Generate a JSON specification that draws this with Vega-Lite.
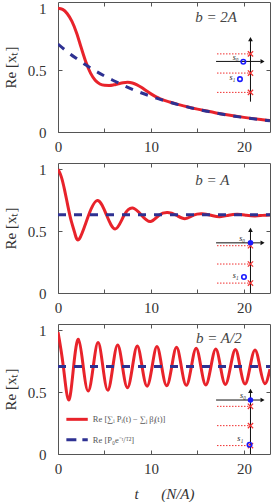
{
"$schema": "https://vega.github.io/schema/vega-lite/v6.json",
"autosize": {"type": "pad"},
"padding": {"left": 2, "top": 0, "right": 0, "bottom": 0},
"spacing": 31,
"bounds": "flush",
"config": {
  "font": "Liberation Serif",
  "view": {"stroke": "#555", "strokeWidth": 1},
  "axis": {"grid": false, "domain": false, "tickSize": -4, "tickColor": "#555", "tickWidth": 1, "labelFlush": false, "labelOverlap": false,
           "labelFont": "Liberation Serif", "labelFontSize": 15, "labelColor": "#333", "titleFont": "Liberation Serif", "titleFontSize": 15, "titleColor": "#333", "titleFontWeight": "normal"}
},
"datasets": {
  "curves": [
    {"p":1,"s":"r","t":0,"v":1.0},{"p":1,"s":"r","t":0.5,"v":0.99},{"p":1,"s":"r","t":1,"v":0.955},{"p":1,"s":"r","t":1.5,"v":0.893},{"p":1,"s":"r","t":2,"v":0.8},{"p":1,"s":"r","t":2.5,"v":0.68},{"p":1,"s":"r","t":3,"v":0.565},{"p":1,"s":"r","t":3.5,"v":0.475},{"p":1,"s":"r","t":4,"v":0.418},{"p":1,"s":"r","t":4.5,"v":0.388},{"p":1,"s":"r","t":5,"v":0.377},{"p":1,"s":"r","t":5.5,"v":0.376},{"p":1,"s":"r","t":6,"v":0.381},{"p":1,"s":"r","t":6.5,"v":0.39},{"p":1,"s":"r","t":7,"v":0.398},{"p":1,"s":"r","t":7.5,"v":0.401},{"p":1,"s":"r","t":8,"v":0.396},{"p":1,"s":"r","t":8.5,"v":0.381},{"p":1,"s":"r","t":9,"v":0.359},{"p":1,"s":"r","t":9.5,"v":0.333},{"p":1,"s":"r","t":10,"v":0.308},{"p":1,"s":"r","t":10.5,"v":0.286},{"p":1,"s":"r","t":11,"v":0.268},{"p":1,"s":"r","t":12,"v":0.242},{"p":1,"s":"r","t":13,"v":0.221},{"p":1,"s":"r","t":14,"v":0.202},{"p":1,"s":"r","t":15,"v":0.185},{"p":1,"s":"r","t":16,"v":0.169},{"p":1,"s":"r","t":17,"v":0.154},{"p":1,"s":"r","t":18,"v":0.141},{"p":1,"s":"r","t":19,"v":0.129},{"p":1,"s":"r","t":20,"v":0.118},{"p":1,"s":"r","t":21,"v":0.108},{"p":1,"s":"r","t":22,"v":0.099},{"p":1,"s":"r","t":22.8,"v":0.092},
    {"p":1,"s":"b","t":0,"v":0.71},{"p":1,"s":"b","t":1,"v":0.648},{"p":1,"s":"b","t":2,"v":0.593},{"p":1,"s":"b","t":3,"v":0.541},{"p":1,"s":"b","t":4,"v":0.495},{"p":1,"s":"b","t":5,"v":0.452},{"p":1,"s":"b","t":6,"v":0.414},{"p":1,"s":"b","t":7,"v":0.378},{"p":1,"s":"b","t":8,"v":0.345},{"p":1,"s":"b","t":9,"v":0.315},{"p":1,"s":"b","t":10,"v":0.288},{"p":1,"s":"b","t":11,"v":0.263},{"p":1,"s":"b","t":12,"v":0.241},{"p":1,"s":"b","t":13,"v":0.22},{"p":1,"s":"b","t":14,"v":0.201},{"p":1,"s":"b","t":15,"v":0.184},{"p":1,"s":"b","t":16,"v":0.168},{"p":1,"s":"b","t":17,"v":0.153},{"p":1,"s":"b","t":18,"v":0.14},{"p":1,"s":"b","t":19,"v":0.128},{"p":1,"s":"b","t":20,"v":0.117},{"p":1,"s":"b","t":21,"v":0.107},{"p":1,"s":"b","t":22,"v":0.098},{"p":1,"s":"b","t":22.8,"v":0.091},
    {"p":2,"s":"r","t":0,"v":1.0},{"p":2,"s":"r","t":0.35,"v":0.94},{"p":2,"s":"r","t":0.7,"v":0.835},{"p":2,"s":"r","t":1.07,"v":0.7},{"p":2,"s":"r","t":1.43,"v":0.58},{"p":2,"s":"r","t":1.8,"v":0.485},{"p":2,"s":"r","t":2.3,"v":0.437},{"p":2,"s":"r","t":3.29,"v":0.628},{"p":2,"s":"r","t":4.28,"v":0.747},{"p":2,"s":"r","t":5.23,"v":0.628},{"p":2,"s":"r","t":6.18,"v":0.518},{"p":2,"s":"r","t":7.11,"v":0.628},{"p":2,"s":"r","t":8.04,"v":0.686},{"p":2,"s":"r","t":8.985,"v":0.628},{"p":2,"s":"r","t":9.93,"v":0.577},{"p":2,"s":"r","t":10.865,"v":0.628},{"p":2,"s":"r","t":11.8,"v":0.65},{"p":2,"s":"r","t":12.725,"v":0.628},{"p":2,"s":"r","t":13.65,"v":0.6},{"p":2,"s":"r","t":14.575,"v":0.628},{"p":2,"s":"r","t":15.5,"v":0.64},{"p":2,"s":"r","t":16.45,"v":0.628},{"p":2,"s":"r","t":17.4,"v":0.616},{"p":2,"s":"r","t":18.35,"v":0.628},{"p":2,"s":"r","t":19.3,"v":0.636},{"p":2,"s":"r","t":20.25,"v":0.628},{"p":2,"s":"r","t":21.2,"v":0.622},{"p":2,"s":"r","t":22.0,"v":0.627},{"p":2,"s":"r","t":22.8,"v":0.63},
    {"p":2,"s":"b","t":0,"v":0.632},{"p":2,"s":"b","t":22.8,"v":0.632},
    {"p":3,"s":"r","t":0,"v":0.985},{"p":3,"s":"r","t":0.57,"v":0.71},{"p":3,"s":"r","t":1.14,"v":0.437},{"p":3,"s":"r","t":1.67,"v":0.7},{"p":3,"s":"r","t":2.2,"v":0.926},{"p":3,"s":"r","t":2.725,"v":0.7},{"p":3,"s":"r","t":3.25,"v":0.509},{"p":3,"s":"r","t":3.78,"v":0.7},{"p":3,"s":"r","t":4.31,"v":0.9},{"p":3,"s":"r","t":4.835,"v":0.7},{"p":3,"s":"r","t":5.36,"v":0.515},{"p":3,"s":"r","t":5.89,"v":0.7},{"p":3,"s":"r","t":6.42,"v":0.88},{"p":3,"s":"r","t":6.945,"v":0.7},{"p":3,"s":"r","t":7.47,"v":0.535},{"p":3,"s":"r","t":8.0,"v":0.7},{"p":3,"s":"r","t":8.53,"v":0.873},{"p":3,"s":"r","t":9.055,"v":0.7},{"p":3,"s":"r","t":9.58,"v":0.548},{"p":3,"s":"r","t":10.11,"v":0.7},{"p":3,"s":"r","t":10.64,"v":0.868},{"p":3,"s":"r","t":11.165,"v":0.7},{"p":3,"s":"r","t":11.69,"v":0.552},{"p":3,"s":"r","t":12.22,"v":0.7},{"p":3,"s":"r","t":12.75,"v":0.862},{"p":3,"s":"r","t":13.275,"v":0.7},{"p":3,"s":"r","t":13.8,"v":0.555},{"p":3,"s":"r","t":14.33,"v":0.7},{"p":3,"s":"r","t":14.86,"v":0.855},{"p":3,"s":"r","t":15.38,"v":0.7},{"p":3,"s":"r","t":15.9,"v":0.558},{"p":3,"s":"r","t":16.435,"v":0.7},{"p":3,"s":"r","t":16.97,"v":0.848},{"p":3,"s":"r","t":17.485,"v":0.7},{"p":3,"s":"r","t":18.0,"v":0.562},{"p":3,"s":"r","t":18.54,"v":0.7},{"p":3,"s":"r","t":19.08,"v":0.845},{"p":3,"s":"r","t":19.59,"v":0.7},{"p":3,"s":"r","t":20.12,"v":0.565},{"p":3,"s":"r","t":20.645,"v":0.7},{"p":3,"s":"r","t":21.19,"v":0.84},{"p":3,"s":"r","t":21.72,"v":0.7},{"p":3,"s":"r","t":22.25,"v":0.568},{"p":3,"s":"r","t":22.8,"v":0.685},
    {"p":3,"s":"b","t":0,"v":0.706},{"p":3,"s":"b","t":22.8,"v":0.706}
  ],
  "axes": [
    {"p":1,"x":20.7,"x2":20.7,"y":0.245,"y2":0.74},{"p":1,"x":17.0,"x2":21.8,"y":0.57,"y2":0.57},
    {"p":2,"x":20.7,"x2":20.7,"y":0,"y2":0.5},{"p":2,"x":17.0,"x2":21.8,"y":0.405,"y2":0.405},
    {"p":3,"x":20.7,"x2":20.7,"y":0,"y2":0.5},{"p":3,"x":17.0,"x2":21.8,"y":0.436,"y2":0.436}
  ],
  "heads": [
    {"p":1,"x":20.7,"y":0.75,"d":"up"},{"p":1,"x":22.0,"y":0.57,"d":"right"},
    {"p":2,"x":20.7,"y":0.51,"d":"up"},{"p":2,"x":22.0,"y":0.405,"d":"right"},
    {"p":3,"x":20.7,"y":0.51,"d":"up"},{"p":3,"x":22.0,"y":0.436,"d":"right"}
  ],
  "poles": [
    {"p":1,"x":17.1,"x2":20.7,"y":0.631},{"p":1,"x":17.1,"x2":20.7,"y":0.476},{"p":1,"x":17.1,"x2":20.7,"y":0.32},
    {"p":2,"x":17.1,"x2":20.7,"y":0.382},{"p":2,"x":17.1,"x2":20.7,"y":0.234},{"p":2,"x":17.1,"x2":20.7,"y":0.08},
    {"p":3,"x":17.1,"x2":20.7,"y":0.385},{"p":3,"x":17.1,"x2":20.7,"y":0.229},{"p":3,"x":17.1,"x2":20.7,"y":0.068}
  ],
  "zeros": [
    {"p":1,"x":19.93,"y":0.567,"k":"open"},{"p":1,"x":19.57,"y":0.427,"k":"open"},
    {"p":2,"x":20.7,"y":0.405,"k":"full"},{"p":2,"x":20.0,"y":0.129,"k":"open"},
    {"p":3,"x":20.7,"y":0.436,"k":"full"},{"p":3,"x":20.6,"y":0.075,"k":"open"}
  ],
  "zlabels": [
    {"p":1,"x":19.1,"y":0.595,"txt":"s₀"},{"p":1,"x":18.75,"y":0.433,"txt":"s₁"},
    {"p":2,"x":19.8,"y":0.44,"txt":"s₀"},{"p":2,"x":19.1,"y":0.134,"txt":"s₁"},
    {"p":3,"x":19.9,"y":0.47,"txt":"s₀"},{"p":3,"x":19.6,"y":0.12,"txt":"s₁"}
  ],
  "heads2": [
    {"p":1,"x":17.0,"y":0.93,"txt":"b = 2A"},{"p":2,"x":16.6,"y":0.916,"txt":"b = A"},{"p":3,"x":17.3,"y":0.94,"txt":"b = A/2"}
  ],
  "legend": [
    {"s":"r","x":0.9,"x2":3.2,"y":0.28,"tx":3.75,"txt":"Re [∑ᵢ Pᵢ(t) − ∑ⱼ βⱼ(t)]"},
    {"s":"b","x":0.9,"x2":3.2,"y":0.116,"tx":3.75,"txt":"Re [P₀e⁻ᵗ/ᵀ²]"}
  ]
},
"vconcat": [
  {
    "width": 212, "height": 130,
    "layer": [
      {"layer": [
        {"data": {"name": "curves"}, "transform": [{"filter": "datum.p==1 && datum.s=='r'"}],
         "mark": {"type": "line", "color": "#e8232b", "strokeWidth": 3, "interpolate": "monotone", "clip": true},
         "encoding": {
           "x": {"field": "t", "type": "quantitative", "scale": {"domain": [0, 22.8], "nice": false, "zero": false},
                 "axis": {"values": [0,5,10,15,20], "labelExpr": "datum.value % 10 === 0 ? datum.label : ''", "title": null, "labelPadding": 11}},
           "y": {"field": "v", "type": "quantitative", "scale": {"domain": [0, 1.05], "nice": false},
                 "axis": {"values": [0,0.5,1], "format": "~g", "title": "Re [xₜ]", "labelPadding": 16, "titlePadding": 9}}}},
        {"data": {"name": "curves"}, "transform": [{"filter": "datum.p==1 && datum.s=='b'"}],
         "mark": {"type": "line", "color": "#2e3192", "strokeWidth": 3, "strokeDash": [8, 8], "interpolate": "monotone", "clip": true},
         "encoding": {"x": {"field": "t", "type": "quantitative"}, "y": {"field": "v", "type": "quantitative"}}},
        {"data": {"name": "axes"}, "transform": [{"filter": "datum.p==1"}],
         "mark": {"type": "rule", "color": "#111", "strokeWidth": 1},
         "encoding": {"x": {"field": "x", "type": "quantitative"}, "x2": {"field": "x2"}, "y": {"field": "y", "type": "quantitative"}, "y2": {"field": "y2"}}},
        {"data": {"name": "poles"}, "transform": [{"filter": "datum.p==1"}],
         "mark": {"type": "rule", "color": "#f03030", "strokeWidth": 1, "strokeDash": [1.5, 1.5]},
         "encoding": {"x": {"field": "x", "type": "quantitative"}, "x2": {"field": "x2"}, "y": {"field": "y", "type": "quantitative"}}},
        {"data": {"name": "poles"}, "transform": [{"filter": "datum.p==1"}],
         "mark": {"type": "point", "shape": "M-1,-1L1,1M-1,1L1,-1", "filled": false, "color": "#f03030", "strokeWidth": 1.2, "size": 28, "opacity": 1},
         "encoding": {"x": {"field": "x2", "type": "quantitative"}, "y": {"field": "y", "type": "quantitative"}}},
        {"data": {"name": "heads"}, "transform": [{"filter": "datum.p==1"}],
         "mark": {"type": "point", "filled": true, "color": "#111", "size": 22, "opacity": 1},
         "encoding": {"x": {"field": "x", "type": "quantitative"}, "y": {"field": "y", "type": "quantitative"},
                      "shape": {"field": "d", "type": "nominal", "scale": {"domain": ["up", "right"], "range": ["triangle-up", "triangle-right"]}, "legend": null}}},
        {"data": {"name": "zeros"}, "transform": [{"filter": "datum.p==1 && datum.k=='open'"}],
         "mark": {"type": "point", "filled": false, "color": "#1a1aff", "strokeWidth": 1.6, "size": 20, "opacity": 1},
         "encoding": {"x": {"field": "x", "type": "quantitative"}, "y": {"field": "y", "type": "quantitative"}}},
        {"data": {"name": "zlabels"}, "transform": [{"filter": "datum.p==1"}],
         "mark": {"type": "text", "fontSize": 8, "fontStyle": "italic", "color": "#222"},
         "encoding": {"x": {"field": "x", "type": "quantitative"}, "y": {"field": "y", "type": "quantitative"}, "text": {"field": "txt"}}},
        {"data": {"name": "heads2"}, "transform": [{"filter": "datum.p==1"}],
         "mark": {"type": "text", "fontSize": 15, "fontStyle": "italic", "color": "#444"},
         "encoding": {"x": {"field": "x", "type": "quantitative"}, "y": {"field": "y", "type": "quantitative"}, "text": {"field": "txt"}}}
      ]},
      {"data": {"values": [{"t": 0, "v": 0}]}, "mark": {"type": "point", "opacity": 0},
       "encoding": {"x": {"field": "t", "type": "quantitative", "axis": {"orient": "top", "values": [5,10,15,20], "labels": false, "title": null}},
                    "y": {"field": "v", "type": "quantitative", "axis": {"orient": "right", "values": [0.5], "labels": false, "title": null}}}}
    ],
    "resolve": {"axis": {"x": "independent", "y": "independent"}}
  },
  {
    "width": 212, "height": 130,
    "layer": [
      {"layer": [
        {"data": {"name": "curves"}, "transform": [{"filter": "datum.p==2 && datum.s=='r'"}],
         "mark": {"type": "line", "color": "#e8232b", "strokeWidth": 3, "interpolate": "natural", "clip": true},
         "encoding": {
           "x": {"field": "t", "type": "quantitative", "scale": {"domain": [0, 22.8], "nice": false, "zero": false},
                 "axis": {"values": [0,5,10,15,20], "labelExpr": "datum.value % 10 === 0 ? datum.label : ''", "title": null, "labelPadding": 11}},
           "y": {"field": "v", "type": "quantitative", "scale": {"domain": [0, 1.05], "nice": false},
                 "axis": {"values": [0,0.5,1], "format": "~g", "title": "Re [xₜ]", "labelPadding": 16, "titlePadding": 9}}}},
        {"data": {"name": "curves"}, "transform": [{"filter": "datum.p==2 && datum.s=='b'"}],
         "mark": {"type": "line", "color": "#2e3192", "strokeWidth": 3, "strokeDash": [8, 8], "clip": true},
         "encoding": {"x": {"field": "t", "type": "quantitative"}, "y": {"field": "v", "type": "quantitative"}}},
        {"data": {"name": "axes"}, "transform": [{"filter": "datum.p==2"}],
         "mark": {"type": "rule", "color": "#111", "strokeWidth": 1},
         "encoding": {"x": {"field": "x", "type": "quantitative"}, "x2": {"field": "x2"}, "y": {"field": "y", "type": "quantitative"}, "y2": {"field": "y2"}}},
        {"data": {"name": "poles"}, "transform": [{"filter": "datum.p==2"}],
         "mark": {"type": "rule", "color": "#f03030", "strokeWidth": 1, "strokeDash": [1.5, 1.5]},
         "encoding": {"x": {"field": "x", "type": "quantitative"}, "x2": {"field": "x2"}, "y": {"field": "y", "type": "quantitative"}}},
        {"data": {"name": "poles"}, "transform": [{"filter": "datum.p==2"}],
         "mark": {"type": "point", "shape": "M-1,-1L1,1M-1,1L1,-1", "filled": false, "color": "#f03030", "strokeWidth": 1.2, "size": 28, "opacity": 1},
         "encoding": {"x": {"field": "x2", "type": "quantitative"}, "y": {"field": "y", "type": "quantitative"}}},
        {"data": {"name": "heads"}, "transform": [{"filter": "datum.p==2"}],
         "mark": {"type": "point", "filled": true, "color": "#111", "size": 22, "opacity": 1},
         "encoding": {"x": {"field": "x", "type": "quantitative"}, "y": {"field": "y", "type": "quantitative"},
                      "shape": {"field": "d", "type": "nominal", "scale": {"domain": ["up", "right"], "range": ["triangle-up", "triangle-right"]}, "legend": null}}},
        {"data": {"name": "zeros"}, "transform": [{"filter": "datum.p==2 && datum.k=='open'"}],
         "mark": {"type": "point", "filled": false, "color": "#1a1aff", "strokeWidth": 1.6, "size": 20, "opacity": 1},
         "encoding": {"x": {"field": "x", "type": "quantitative"}, "y": {"field": "y", "type": "quantitative"}}},
        {"data": {"name": "zeros"}, "transform": [{"filter": "datum.p==2 && datum.k=='full'"}],
         "mark": {"type": "point", "filled": true, "color": "#1a1aff", "size": 30, "opacity": 1},
         "encoding": {"x": {"field": "x", "type": "quantitative"}, "y": {"field": "y", "type": "quantitative"}}},
        {"data": {"name": "zlabels"}, "transform": [{"filter": "datum.p==2"}],
         "mark": {"type": "text", "fontSize": 8, "fontStyle": "italic", "color": "#222"},
         "encoding": {"x": {"field": "x", "type": "quantitative"}, "y": {"field": "y", "type": "quantitative"}, "text": {"field": "txt"}}},
        {"data": {"name": "heads2"}, "transform": [{"filter": "datum.p==2"}],
         "mark": {"type": "text", "fontSize": 15, "fontStyle": "italic", "color": "#444"},
         "encoding": {"x": {"field": "x", "type": "quantitative"}, "y": {"field": "y", "type": "quantitative"}, "text": {"field": "txt"}}}
      ]},
      {"data": {"values": [{"t": 0, "v": 0}]}, "mark": {"type": "point", "opacity": 0},
       "encoding": {"x": {"field": "t", "type": "quantitative", "axis": {"orient": "top", "values": [5,10,15,20], "labels": false, "title": null}},
                    "y": {"field": "v", "type": "quantitative", "axis": {"orient": "right", "values": [0.5], "labels": false, "title": null}}}}
    ],
    "resolve": {"axis": {"x": "independent", "y": "independent"}}
  },
  {
    "width": 212, "height": 130,
    "layer": [
      {"layer": [
        {"data": {"name": "curves"}, "transform": [{"filter": "datum.p==3 && datum.s=='r'"}],
         "mark": {"type": "line", "color": "#e8232b", "strokeWidth": 3, "interpolate": "natural", "clip": true},
         "encoding": {
           "x": {"field": "t", "type": "quantitative", "scale": {"domain": [0, 22.8], "nice": false, "zero": false},
                 "axis": {"values": [0,5,10,15,20], "labelExpr": "datum.value % 10 === 0 ? datum.label : ''", "title": "t\u00a0\u00a0\u00a0\u00a0\u00a0\u00a0(N/A)", "titleFontStyle": "italic", "labelPadding": 11, "titlePadding": 10}},
           "y": {"field": "v", "type": "quantitative", "scale": {"domain": [0, 1.05], "nice": false},
                 "axis": {"values": [0,0.5,1], "format": "~g", "title": "Re [xₜ]", "labelPadding": 16, "titlePadding": 9}}}},
        {"data": {"name": "curves"}, "transform": [{"filter": "datum.p==3 && datum.s=='b'"}],
         "mark": {"type": "line", "color": "#2e3192", "strokeWidth": 3, "strokeDash": [8, 8], "clip": true},
         "encoding": {"x": {"field": "t", "type": "quantitative"}, "y": {"field": "v", "type": "quantitative"}}},
        {"data": {"name": "axes"}, "transform": [{"filter": "datum.p==3"}],
         "mark": {"type": "rule", "color": "#111", "strokeWidth": 1},
         "encoding": {"x": {"field": "x", "type": "quantitative"}, "x2": {"field": "x2"}, "y": {"field": "y", "type": "quantitative"}, "y2": {"field": "y2"}}},
        {"data": {"name": "poles"}, "transform": [{"filter": "datum.p==3"}],
         "mark": {"type": "rule", "color": "#f03030", "strokeWidth": 1, "strokeDash": [1.5, 1.5]},
         "encoding": {"x": {"field": "x", "type": "quantitative"}, "x2": {"field": "x2"}, "y": {"field": "y", "type": "quantitative"}}},
        {"data": {"name": "poles"}, "transform": [{"filter": "datum.p==3"}],
         "mark": {"type": "point", "shape": "M-1,-1L1,1M-1,1L1,-1", "filled": false, "color": "#f03030", "strokeWidth": 1.2, "size": 28, "opacity": 1},
         "encoding": {"x": {"field": "x2", "type": "quantitative"}, "y": {"field": "y", "type": "quantitative"}}},
        {"data": {"name": "heads"}, "transform": [{"filter": "datum.p==3"}],
         "mark": {"type": "point", "filled": true, "color": "#111", "size": 22, "opacity": 1},
         "encoding": {"x": {"field": "x", "type": "quantitative"}, "y": {"field": "y", "type": "quantitative"},
                      "shape": {"field": "d", "type": "nominal", "scale": {"domain": ["up", "right"], "range": ["triangle-up", "triangle-right"]}, "legend": null}}},
        {"data": {"name": "zeros"}, "transform": [{"filter": "datum.p==3 && datum.k=='open'"}],
         "mark": {"type": "point", "filled": false, "color": "#1a1aff", "strokeWidth": 1.6, "size": 20, "opacity": 1},
         "encoding": {"x": {"field": "x", "type": "quantitative"}, "y": {"field": "y", "type": "quantitative"}}},
        {"data": {"name": "zeros"}, "transform": [{"filter": "datum.p==3 && datum.k=='full'"}],
         "mark": {"type": "point", "filled": true, "color": "#1a1aff", "size": 30, "opacity": 1},
         "encoding": {"x": {"field": "x", "type": "quantitative"}, "y": {"field": "y", "type": "quantitative"}}},
        {"data": {"name": "zlabels"}, "transform": [{"filter": "datum.p==3"}],
         "mark": {"type": "text", "fontSize": 8, "fontStyle": "italic", "color": "#222"},
         "encoding": {"x": {"field": "x", "type": "quantitative"}, "y": {"field": "y", "type": "quantitative"}, "text": {"field": "txt"}}},
        {"data": {"name": "heads2"}, "transform": [{"filter": "datum.p==3"}],
         "mark": {"type": "text", "fontSize": 15, "fontStyle": "italic", "color": "#444"},
         "encoding": {"x": {"field": "x", "type": "quantitative"}, "y": {"field": "y", "type": "quantitative"}, "text": {"field": "txt"}}},
        {"data": {"name": "legend"}, "transform": [{"filter": "datum.s=='r'"}],
         "mark": {"type": "rule", "color": "#e8232b", "strokeWidth": 3},
         "encoding": {"x": {"field": "x", "type": "quantitative"}, "x2": {"field": "x2"}, "y": {"field": "y", "type": "quantitative"}}},
        {"data": {"name": "legend"}, "transform": [{"filter": "datum.s=='b'"}],
         "mark": {"type": "rule", "color": "#2e3192", "strokeWidth": 3, "strokeDash": [10, 6]},
         "encoding": {"x": {"field": "x", "type": "quantitative"}, "x2": {"field": "x2"}, "y": {"field": "y", "type": "quantitative"}}},
        {"data": {"name": "legend"},
         "mark": {"type": "text", "fontSize": 8.5, "align": "left", "color": "#555"},
         "encoding": {"x": {"field": "tx", "type": "quantitative"}, "y": {"field": "y", "type": "quantitative"}, "text": {"field": "txt"}}}
      ]},
      {"data": {"values": [{"t": 0, "v": 0}]}, "mark": {"type": "point", "opacity": 0},
       "encoding": {"x": {"field": "t", "type": "quantitative", "axis": {"orient": "top", "values": [5,10,15,20], "labels": false, "title": null}},
                    "y": {"field": "v", "type": "quantitative", "axis": {"orient": "right", "values": [0.5], "labels": false, "title": null}}}}
    ],
    "resolve": {"axis": {"x": "independent", "y": "independent"}}
  }
]
}
